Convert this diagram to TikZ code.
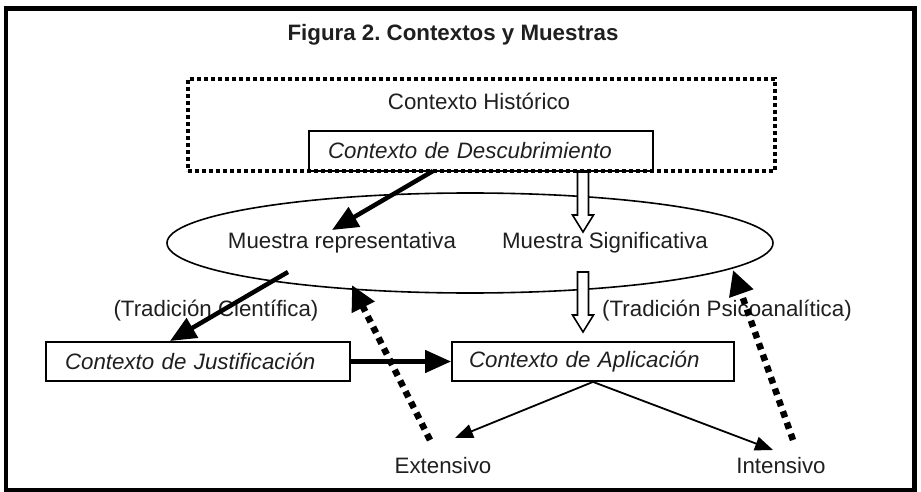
\documentclass[tikz,border=0pt]{standalone}
\usepackage{fontspec}
\setmainfont{Liberation Sans}
\usetikzlibrary{arrows.meta,shapes.geometric}
\frenchspacing
\begin{document}
\begin{tikzpicture}[x=1pt,y=-1pt,
  every node/.style={font=\fontsize{22.3}{26}\selectfont, text=black!88},
  txt/.style={inner sep=0pt, text height=16pt, text depth=0pt},
  boxnode/.style={draw, line width=1.8pt, fill=white, inner ysep=0pt, align=left,
    font=\fontsize{22.3}{26}\selectfont\itshape},
  dotframe/.style={draw, line width=4pt, dash pattern=on 4pt off 3pt, inner sep=0pt},
  thickarrow/.style={line width=4.5pt, -{Triangle[length=26pt,width=22pt]}},
  thinarrow/.style={line width=1.8pt, -{Triangle[length=18pt,width=14pt]}},
  dotarrow/.style={line width=6.5pt, dash pattern=on 6.5pt off 5.5pt, -{Triangle[length=25pt,width=24pt]}},
  hollow/.style={draw, line width=1.6pt, fill=white}
]
\useasboundingbox (0,0) rectangle (921,492);
\fill[white] (0,0) rectangle (921,492);
\draw[line width=4.5pt] (6,8.5) rectangle (914.5,490);

% title
\node[txt, font=\fontsize{22.3}{26}\selectfont\bfseries] (title) at (453,33) {Figura 2. Contextos y Muestras};

% historical context
\node[boxnode, text width=306pt, inner xsep=19pt, minimum height=40pt] (desc) at (481,151) {Contexto de Descubrimiento};
\node[dotframe, minimum width=587pt, minimum height=92pt] (hist) at (481.5,125) {};
\node[txt] (histlabel) at (479,102) {Contexto Histórico};

% ellipse of samples
\node[draw, ellipse, line width=1.6pt, minimum width=606pt, minimum height=100pt, inner sep=0pt] (ell) at (470,243) {};
\node[txt] (mrep) at (342,240) {Muestra representativa};
\node[txt] (msig) at (605,240) {Muestra Significativa};

% traditions
\node[txt] (tcien) at (216,308) {(Tradición Científica)};
\node[txt] (tpsic) at (727,308) {(Tradición Psicoanalítica)};

% lower boxes
\node[boxnode, text width=266pt, inner xsep=19pt, minimum height=39pt] (just) at (198,361.5) {Contexto de Justificación};
\node[boxnode, text width=248pt, inner xsep=17pt, minimum height=39pt] (apl) at (593,361.5) {Contexto de Aplicación};

% outcomes
\node[txt] (ext) at (443,465) {Extensivo};
\node[txt] (int) at (781,465) {Intensivo};

% hollow arrows
\draw[hollow] (577.5,172) -- (577.5,215) -- (572.5,215) -- (583,232) -- (593.5,215) -- (588.5,215) -- (588.5,172) -- cycle;
\draw[hollow] (577.5,272) -- (577.5,315) -- (572.5,315) -- (583,332) -- (593.5,315) -- (588.5,315) -- (588.5,272) -- cycle;

% connectors
\coordinate (a1s) at (433,171);
\coordinate (a1e) at (332,230);
\draw[thickarrow] (a1s) -- (a1e);
\coordinate (a2s) at (288,272);
\coordinate (a2e) at (170,341);
\draw[thickarrow] (a2s) -- (a2e);
\draw[thickarrow] (just.east) -- (apl.west);

\coordinate (extt) at (455,438);
\coordinate (intt) at (773,450);
\draw[thinarrow] (apl.south) -- (extt);
\draw[thinarrow] (apl.south) -- (intt);

\coordinate (d1s) at (430,440);
\coordinate (d1e) at (352,285);
\draw[dotarrow] (d1s) -- (d1e);
\coordinate (d2s) at (793,440);
\coordinate (d2e) at (733,270);
\draw[dotarrow] (d2s) -- (d2e);
\end{tikzpicture}
\end{document}
